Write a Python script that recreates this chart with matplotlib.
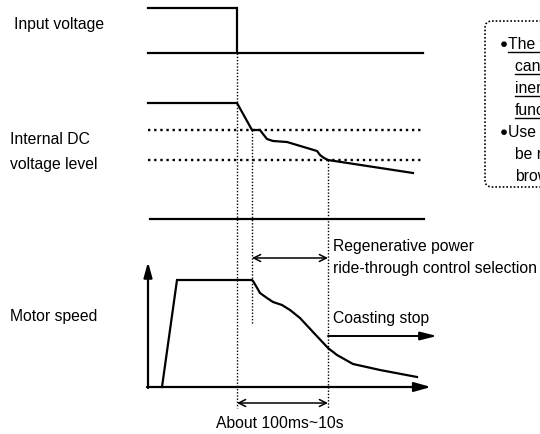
import matplotlib.pyplot as plt
from matplotlib.patches import FancyBboxPatch

plt.rcParams['font.family'] = ['Liberation Sans', 'DejaVu Sans']

# time axis (px) and signal levels for each trace
input_high_t = [148, 237, 237]
input_high_v = [8, 8, 53]
input_low_t = [148, 423]
input_low_v = [53, 53]

dc_t = [148, 237, 252, 260, 263, 267, 273, 287, 317, 320, 324, 328, 413]
dc_v = [103, 103, 130, 130, 134, 139, 141, 142, 151, 155, 158, 160, 173]
dc_levels = [130, 160]
dc_base = 219

speed_t = [162, 177, 252, 253, 256, 260, 267, 273, 282, 290, 300, 313, 328, 337, 353, 380, 417]
speed_v = [387, 280, 280, 281, 286, 293, 298, 302, 305, 310, 318, 332, 348, 355, 364, 370, 377]

t_trip = 237     # power failure
t_limit = 252    # DC bus reaches the ride-through level
t_stop = 328     # DC bus reaches the undervoltage level

labels = ["Input voltage", "Internal DC", "voltage level", "Motor speed"]
note_lines = ["The time until the motor stops",
              "can be extended by the load",
              "inertia with the ride-through",
              "function.",
              "Use when the operation can",
              "be restarted after a momentary",
              "brownout."]
note_bullet = [True, False, False, False, True, False, False]
note_underlined = [True, True, True, True, False, False, False]

fig = plt.figure(figsize=(5.4, 4.34), dpi=100)
ax = fig.add_axes([0, 0, 1, 1])
ax.set_xlim(0, 540)
ax.set_ylim(434, 0)
ax.axis('off')

solid = dict(color='black', lw=1.6, solid_joinstyle='miter')
dots = dict(color='black', lw=1.0, linestyle=(0, (1, 1.3)))

# input voltage
ax.plot(input_high_t, input_high_v, **solid)
ax.plot(input_low_t, input_low_v, **solid)

# internal DC voltage
for lv in dc_levels:
    ax.plot([148, 423], [lv, lv], color='black', lw=1.7, linestyle=(0, (1, 1.6)))
ax.plot(dc_t, dc_v, **solid)
ax.plot([150, 424], [dc_base, dc_base], **solid)

# event markers
ax.plot([t_trip, t_trip], [53, 408], **dots)
ax.plot([t_limit, t_limit], [dc_levels[0], 323], **dots)
ax.plot([t_stop, t_stop], [dc_levels[1], 408], **dots)

# motor speed with axes arrows
head = dict(color='black', lw=1.6, shrinkA=0, shrinkB=0)
ax.annotate('', xy=(148, 262), xytext=(148, 388),
            arrowprops=dict(arrowstyle='-|>,head_length=0.9,head_width=0.25', **head))
ax.annotate('', xy=(431, 387), xytext=(147, 387),
            arrowprops=dict(arrowstyle='-|>,head_length=1.0,head_width=0.28', **head))
ax.plot(speed_t, speed_v, **solid)

# coasting stop
ax.annotate('', xy=(437, 336), xytext=(t_stop, 336),
            arrowprops=dict(arrowstyle='-|>,head_length=1.0,head_width=0.25', color='black', lw=1.4,
                            shrinkA=0, shrinkB=0))

# interval arrows
for y0, x0 in [(258, t_limit), (403, t_trip)]:
    ax.annotate('', xy=(t_stop, y0), xytext=(x0, y0),
                arrowprops=dict(arrowstyle='<->,head_length=0.5,head_width=0.25', color='black', lw=1.1,
                                shrinkA=0, shrinkB=0))

fs = 11.3
ax.text(14, 25, labels[0], fontsize=fs, va='center')
ax.text(10, 140, labels[1], fontsize=fs, va='center')
ax.text(10, 165, labels[2], fontsize=fs, va='center')
ax.text(10, 317, labels[3], fontsize=fs, va='center')

ax.text(333, 247, "Regenerative power", fontsize=fs, va='center')
ax.text(333, 268, "ride-through control selection", fontsize=fs, va='center')
ax.text(333, 318, "Coasting stop", fontsize=fs, va='center')
ax.text(280, 424, "About 100ms~10s", fontsize=fs, va='center', ha='center')

# note box
ax.add_patch(FancyBboxPatch((485, 21), 120, 166, boxstyle="round,pad=0,rounding_size=7",
                            fill=False, ec='black', lw=1.2, linestyle=(0, (1, 1.2))))
note_texts = []
for i, line in enumerate(note_lines):
    yb = 49 + 22 * i
    if note_bullet[i]:
        ax.text(504, yb - 4, '\u25cf', fontsize=9.5, va='center', ha='center')
        x0 = 507.5
    else:
        x0 = 515
    note_texts.append(ax.text(x0, yb, line, fontsize=fs, va='baseline'))

fig.canvas.draw()
inv = ax.transData.inverted()
for t, ul in zip(note_texts, note_underlined):
    if not ul:
        continue
    bb = t.get_window_extent()
    (xa, _), (xb, _) = inv.transform([[bb.x0, bb.y0], [bb.x1, bb.y0]])
    y = t.get_position()[1] + 3
    ax.plot([xa, xb], [y, y], color='black', lw=1.0)

fig.savefig('out.png', dpi=100)
